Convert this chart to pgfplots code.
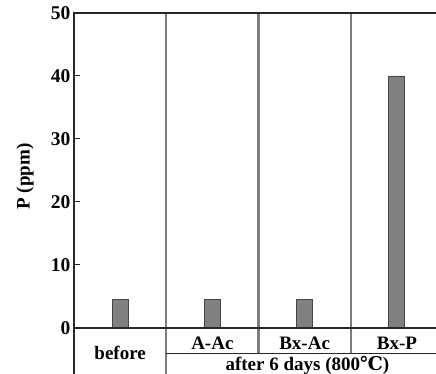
\documentclass[border=0pt]{standalone}
\usepackage{fontspec}
\setmainfont{Liberation Serif}
\newfontfamily\dvs{DejaVu Serif}
\usepackage{pgfplots}
\pgfplotsset{compat=1.18}
\definecolor{barfill}{RGB}{128,128,131}
\definecolor{bardraw}{RGB}{70,70,70}
\definecolor{sepcol}{RGB}{125,125,125}
\definecolor{axcol}{RGB}{40,40,40}
\begin{document}
\begin{tikzpicture}
\path[use as bounding box] (0,0) rectangle (436pt,374pt);
\begin{axis}[
  at={(74pt,46pt)}, anchor=south west,
  scale only axis, width=362pt, height=315pt,
  xmin=0, xmax=3.924, ymin=0, ymax=50,
  clip=false,
  axis line style={draw=none},
  xtick=\empty,
  ytick={0,10,20,30,40,50},
  ytick pos=left, tick align=inside,
  major tick length=6pt,
  tick style={axcol, line width=1pt},
  /pgf/number format/assume math mode=true,
  yticklabel style={font=\bfseries\fontsize{19.5}{19.5}\selectfont, text=black},
  ylabel={P (ppm)},
  ylabel style={at={(axis description cs:0,0.481)}, anchor=center, yshift=49pt, font=\bfseries\fontsize{19}{19}\selectfont},
]
\addplot[ybar, bar width=16pt, fill=barfill, draw=bardraw, line width=0.9pt]
  coordinates {(0.5,4.5) (1.5,4.5) (2.5,4.5) (3.5,40)};
% separators
\draw[sepcol, line width=2.2pt] (axis cs:1,50) -- (axis cs:1,-7.6);
\draw[sepcol, line width=2.2pt] (axis cs:2,50) -- (axis cs:2,-4);
\draw[sepcol, line width=2.2pt] (axis cs:3,50) -- (axis cs:3,-4);
% frame
\draw[axcol, line width=1.3pt] (axis cs:0,-7.6) -- (axis cs:0,50) -- (axis cs:3.924,50);
\draw[axcol, line width=1.3pt] (axis cs:0,0) -- (axis cs:3.924,0);
\draw[axcol, line width=1.3pt] (axis cs:1,-4) -- (axis cs:3.924,-4);
% table text
\begin{scope}[font=\bfseries\fontsize{19}{19}\selectfont]
\node at (axis cs:0.5,-3.97) {before};
\node at (axis cs:1.5,-2.4) {A-Ac};
\node at (axis cs:2.5,-2.4) {Bx-Ac};
\node at (axis cs:3.5,-2.4) {Bx-P};
\node at (axis cs:2.53,-5.95) {after 6 days (800{\dvs\bfseries ℃})};
\end{scope}
\end{axis}
\end{tikzpicture}
\end{document}
